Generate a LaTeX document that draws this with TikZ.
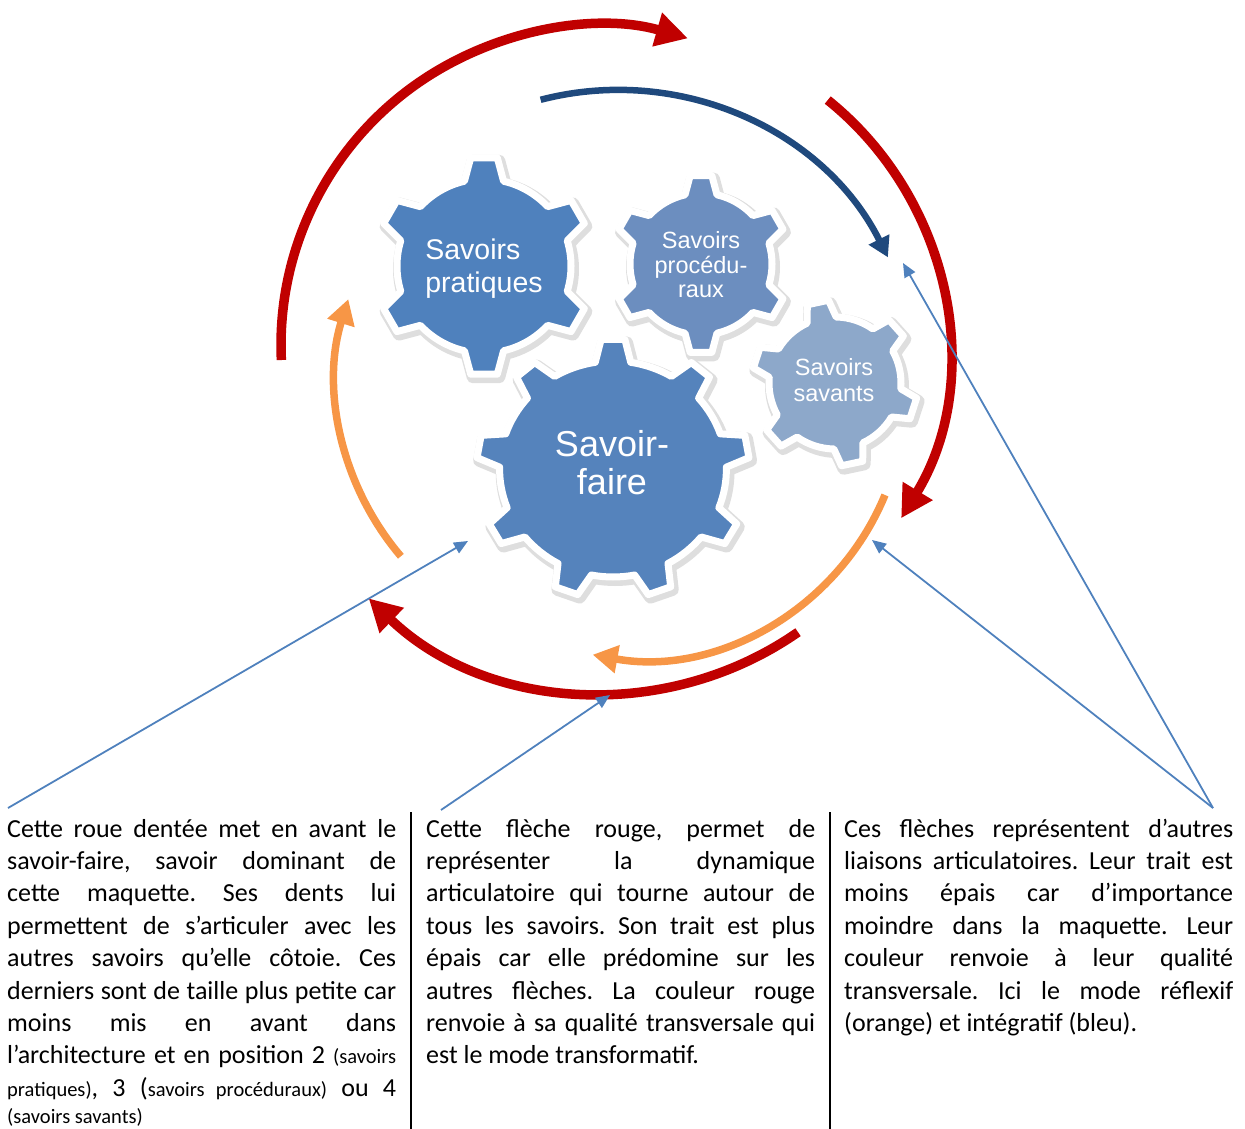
\documentclass[tikz,border=0pt]{standalone}
\usepackage{fontspec}
\setmainfont{Carlito}
\newfontfamily\arialfont{Liberation Sans}
\usetikzlibrary{arrows.meta}

\definecolor{rouge}{HTML}{C00000}
\definecolor{orangefl}{HTML}{F79646}
\definecolor{bleufl}{HTML}{1F497D}
\definecolor{bleutrait}{HTML}{4F81BD}
\definecolor{rouepratique}{HTML}{4F81BD}
\definecolor{roueproc}{HTML}{6C8EBF}
\definecolor{rouesavant}{HTML}{8DA8CA}
\definecolor{rouefaire}{HTML}{5583BC}

\setlength{\parindent}{0pt}
\setlength{\parskip}{0pt}
\hyphenpenalty=10000
\exhyphenpenalty=10000
\frenchspacing

% contour d'une roue : dents, rayon pied, rayon tete, rotation, demi-angle pied, demi-angle tete
\newcommand{\rouedentee}[6]{({#4-#5}:#2)
  \foreach \k in {1,...,#1}{
    -- ({#4+(\k-1)*360/#1-#6}:#3) -- ({#4+(\k-1)*360/#1+#6}:#3)
    -- ({#4+(\k-1)*360/#1+#5}:#2)
    arc[start angle={#4+(\k-1)*360/#1+#5}, end angle={#4+\k*360/#1-#5}, radius=#2]}
  -- cycle}
\newcommand{\petit}[1]{{\fontsize{20.5}{22}\selectfont #1}}

\begin{document}
\begin{tikzpicture}[x=1pt, y=-1pt,
    ombre/.style={draw=black!13, fill=black!13, line width=12pt, line join=round, shift={(2,3)}},
    roue/.style={draw=white, line width=7pt, line join=round},
    etiquette/.style={text=white, inner sep=0pt, align=center},
    grosse/.style={draw=rouge, line width=9.5pt, -{Triangle[length=32pt,width=33pt]}},
    reflexif/.style={draw=orangefl, line width=7.5pt, -{Triangle[length=25pt,width=27pt]}},
    integratif/.style={draw=bleufl, line width=6.5pt, -{Triangle[length=20pt,width=22pt]}},
    renvoi/.style={draw=bleutrait, line width=1.8pt, -{Triangle[length=14pt,width=12pt]}},
    texte/.style={anchor=base west, inner sep=0pt, text width=389pt, align=justify,
      font=\fontsize{26}{32.4}\selectfont}]
  \useasboundingbox (0,0) rectangle (1245,1129);

  % roues dentees
  \begin{scope}[shift={(484,266)}]
    \path[ombre] \rouedentee{6}{87}{109}{90}{13}{7};
    \path[roue, fill=rouepratique] \rouedentee{6}{87}{109}{90}{13}{7};
  \end{scope}
  \begin{scope}[shift={(701,264)}]
    \path[ombre] \rouedentee{6}{71}{89}{90}{13}{7};
    \path[roue, fill=roueproc] \rouedentee{6}{71}{89}{90}{13}{7};
  \end{scope}
  \begin{scope}[shift={(835,383)}]
    \path[ombre] \rouedentee{6}{66}{83}{18}{13}{7.5};
    \path[roue, fill=rouesavant] \rouedentee{6}{66}{83}{18}{13}{7.5};
  \end{scope}
  \begin{scope}[shift={(613,469)}, xscale=1.05]
    \path[ombre] \rouedentee{9}{108}{130}{270}{9}{5};
    \path[roue, fill=rouefaire] \rouedentee{9}{108}{130}{270}{9}{5};
  \end{scope}

  \node[etiquette, align=left, font=\arialfont\fontsize{28.5}{33}\selectfont] (pratiques) at (484,269) {Savoirs\\pratiques};
  \node[etiquette, font=\arialfont\fontsize{23.5}{24.5}\selectfont] (proceduraux) at (701,265) {Savoirs\\procédu-\\raux};
  \node[etiquette, font=\arialfont\fontsize{23.5}{26}\selectfont] (savants) at (834,380) {Savoirs\\savants};
  \node[etiquette, font=\arialfont\fontsize{36}{38}\selectfont] (savoirfaire) at (612,463) {Savoir-\\faire};

  % fleches autour des savoirs
  \draw[grosse] (600,345) ++(177.3:319) arc[start angle=177.3, end angle=286, radius=319];
  \draw[grosse] (626,351) ++(-51.2:322) arc[start angle=-51.2, end angle=31.3, radius=322];
  \draw[grosse] (604,353) ++(55.2:340) arc[start angle=55.2, end angle=133.8, radius=340];
  \draw[integratif] (617,393) ++(255.4:303) arc[start angle=255.4, end angle=333.4, radius=303];
  \draw[reflexif] (608,380) ++(139.6:272) arc[start angle=139.6, end angle=197.3, radius=272];
  \draw[reflexif] (640,394) ++(22.4:265) arc[start angle=22.4, end angle=100.3, radius=265];

  % textes
  \node[texte] (txtRoue) at (7,837) {Cette roue dentée met en avant le\linebreak
    savoir-faire, savoir dominant de\linebreak
    cette maquette. Ses dents lui\linebreak
    permettent de s’articuler avec les\linebreak
    autres savoirs qu’elle côtoie. Ces\linebreak
    derniers sont de taille plus petite car\linebreak
    moins mis en avant dans\linebreak
    l’architecture et en position 2 \petit{(savoirs}\linebreak
    \petit{pratiques)}, 3 (\petit{savoirs procéduraux)} ou 4{\parfillskip=0pt\par}
    \vspace{-5pt}\fontsize{20.5}{22}\selectfont(savoirs savants)};
  \node[texte] (txtFleche) at (426,837) {Cette flèche rouge, permet de\linebreak
    représenter la dynamique\linebreak
    articulatoire qui tourne autour de\linebreak
    tous les savoirs. Son trait est plus\linebreak
    épais car elle prédomine sur les\linebreak
    autres flèches. La couleur rouge\linebreak
    renvoie à sa qualité transversale qui\linebreak
    est le mode transformatif.};
  \node[texte] (txtAutres) at (844,837) {Ces flèches représentent d’autres\linebreak
    liaisons articulatoires. Leur trait est\linebreak
    moins épais car d’importance\linebreak
    moindre dans la maquette. Leur\linebreak
    couleur renvoie à leur qualité\linebreak
    transversale. Ici le mode réflexif\linebreak
    (orange) et intégratif (bleu).};

  \draw[line width=1.6pt] (411,812) -- (411,1129);
  \draw[line width=1.6pt] (830,812) -- (830,1129);

  % renvois vers le schema
  \coordinate (depRoue) at (8,808);
  \coordinate (visRoue) at (468,541);
  \coordinate (depFleche) at (441,810);
  \coordinate (visFleche) at (610,695);
  \coordinate (depAutres) at (1213,808);
  \coordinate (visOrange) at (872,540);
  \coordinate (visBleue) at (903,263);
  \draw[renvoi] (depRoue) -- (visRoue);
  \draw[renvoi] (depFleche) -- (visFleche);
  \draw[renvoi] (depAutres) -- (visOrange);
  \draw[renvoi] (depAutres) -- (visBleue);
\end{tikzpicture}
\end{document}
